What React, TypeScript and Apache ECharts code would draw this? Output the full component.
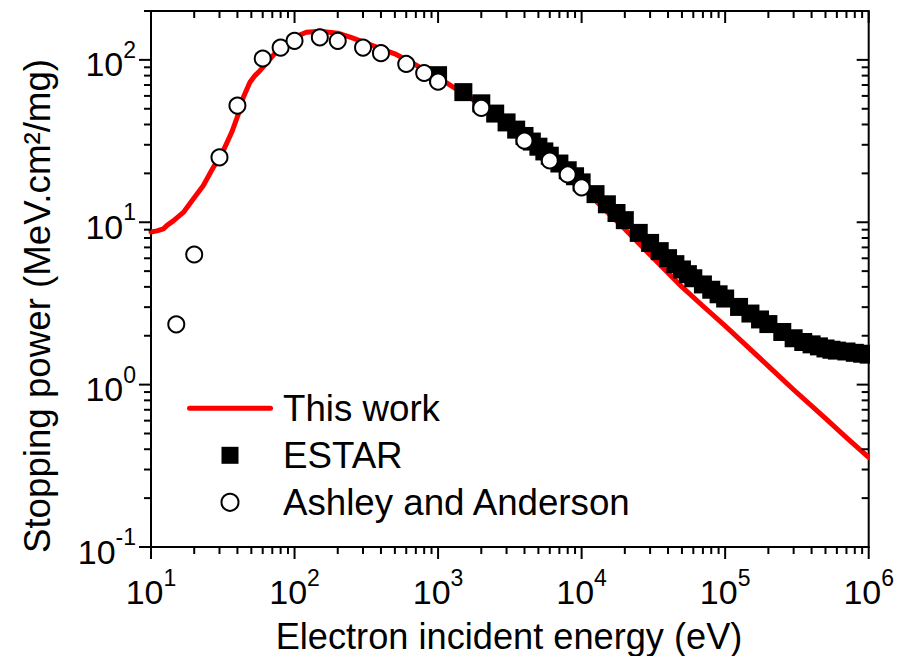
import React, { useEffect, useRef } from 'react';
import * as echarts from 'echarts';

// ---- Data ----
const thisWorkEnergy = [
  10, 11, 12.2, 13, 14.3, 16.8, 19.7, 23.1, 27.2, 31.9, 36.5, 40.6, 44, 48.9, 53, 57.4, 67.4, 79.1, 98,
  121, 150, 200, 250, 300, 400, 500, 700, 1000, 1500, 2000, 3000, 4000, 5000, 7000, 10000, 15000, 20000,
  30000, 50000, 70000, 100000, 150000, 200000, 300000, 500000, 700000, 1000000,
];
const thisWorkPower = [
  8.7, 8.85, 9.1, 9.6, 10.2, 11.5, 13.9, 16.8, 21.8, 27.6, 35.8, 46.4, 58.8, 72.7, 80, 85.8, 101, 119, 137,
  148, 150, 146, 137, 129, 117, 109, 93, 78, 62, 53, 40.5, 33, 28.2, 22, 16.5, 11.6, 9.1,
  6.3, 4.0, 3.05, 2.3, 1.65, 1.3, 0.93, 0.62, 0.472, 0.356,
];

const estarEnergy = [
  1000, 1500, 2000, 2500, 3000, 3500, 4000, 4500, 5000, 5500, 6000, 7000, 8000, 9000,
  10000, 12500, 15000, 17500, 20000, 25000, 30000, 35000, 40000, 45000, 50000, 55000, 60000, 70000, 80000, 90000,
  100000, 125000, 150000, 175000, 200000, 250000, 300000, 350000, 400000, 450000, 500000, 550000, 600000, 700000,
  800000, 900000, 1000000,
];
const estarPower = [
  80.5, 63.3, 54, 46.7, 41.2, 37.2, 34, 31.4, 29.2, 27.3, 25.7, 23, 20.9, 19.2,
  17.6, 14.9, 12.9, 11.4, 10.3, 8.6, 7.46, 6.64, 6.01, 5.52, 5.12, 4.79, 4.52, 4.14, 3.84, 3.6,
  3.39, 3.01, 2.74, 2.52, 2.36, 2.11, 1.93, 1.83, 1.77, 1.72, 1.67, 1.64, 1.62, 1.6,
  1.57, 1.55, 1.53,
];

const ashleyEnergy = [15, 20, 30, 40, 60, 80, 100, 150, 200, 300, 400, 600, 800, 1000, 2000, 4000, 6000, 8000, 10000];
const ashleyPower = [2.35, 6.33, 25.1, 52.3, 102, 119, 131, 137.6, 131, 119, 110, 94.4, 83, 73.4, 50.6, 31.8, 24, 19.7, 16.4];

const seriesNames = ['This work', 'ESTAR', 'Ashley and Anderson'];
const xTitle = 'Electron incident energy (eV)';
const yTitle = 'Stopping power (MeV.cm\u00B2/mg)';

const X_MIN = 10;
const X_MAX = 1000000;
const Y_MIN = 0.1;
const Y_MAX = 200;
const xDecades = [10, 100, 1000, 10000, 100000, 1000000];
const yDecades = [0.1, 1, 10, 100];
const minorSteps = [2, 3, 4, 5, 6, 7, 8, 9];

const FONT = '"Liberation Sans", Arial, Helvetica, sans-serif';

function zip(a: number[], b: number[]) {
  return a.map((v, i) => [v, b[i]]);
}

function buildTicks(decades: number[], max: number) {
  const out: { v: number; major: number }[] = [];
  decades.forEach((d) => {
    out.push({ v: d, major: 1 });
    minorSteps.forEach((m) => {
      const v = d * m;
      if (v <= max * 1.0000001) out.push({ v, major: 0 });
    });
  });
  return out.filter((t) => t.v <= max * 1.0000001);
}

const xTicks = buildTicks(xDecades, X_MAX);
const yTicks = buildTicks(yDecades, Y_MAX);

const tickStyle = { stroke: '#000', lineWidth: 2 };

function labelFormatter(v: number) {
  const l = Math.log10(v);
  const e = Math.round(l);
  if (Math.abs(l - e) > 1e-6) return '';
  return `{b|10}{s|${e}}`;
}

const rich = {
  b: { fontSize: 34, lineHeight: 52, fontFamily: FONT, color: '#000' },
  s: { fontSize: 23, lineHeight: 23, verticalAlign: 'top', fontFamily: FONT, color: '#000' },
};

export default function App() {
  const ref = useRef<HTMLDivElement>(null);
  useEffect(() => {
    if (!ref.current) return;
    const chart = echarts.init(ref.current, undefined, { renderer: 'svg' });
    const option: any = {
      animation: false,
      backgroundColor: '#fff',
      grid: {
        left: 151,
        top: 11,
        width: 718,
        height: 536,
        show: true,
        borderColor: '#000',
        borderWidth: 2,
        containLabel: false,
      },
      xAxis: {
        type: 'log',
        logBase: 10,
        min: X_MIN,
        max: X_MAX,
        splitNumber: 5,
        axisLine: { show: true, lineStyle: { color: '#000', width: 2 } },
        axisTick: { show: false },
        splitLine: { show: false },
        minorTick: { show: false },
        axisLabel: { formatter: labelFormatter, rich, margin: 19, color: '#000' },
      },
      yAxis: {
        type: 'log',
        logBase: 10,
        min: Y_MIN,
        max: Y_MAX,
        axisLine: { show: true, lineStyle: { color: '#000', width: 2 } },
        axisTick: { show: false },
        splitLine: { show: false },
        minorTick: { show: false },
        axisLabel: { formatter: labelFormatter, rich, margin: 15, padding: [9, 0, 0, 0], color: '#000' },
      },
      legend: {
        orient: 'vertical',
        left: 187,
        top: 389.8,
        padding: 0,
        itemWidth: 86,
        itemHeight: 17,
        itemGap: 10,
        selectedMode: false,
        textStyle: { fontSize: 36.7, fontFamily: FONT, color: '#000', lineHeight: 37, padding: [0, 0, 0, 5] },
        data: [
          { name: seriesNames[0], icon: 'path://M2.5,0H83.5A2.5,2.5,0,0,1,83.5,5H2.5A2.5,2.5,0,0,1,2.5,0Z' },
          { name: seriesNames[1], icon: 'path://M0,0H17V17H0Z', itemStyle: { color: '#000', opacity: 1 } },
          { name: seriesNames[2], itemStyle: { color: '#fff', borderColor: '#000', borderWidth: 2, opacity: 1 } },
        ],
      },
      series: [
        {
          name: seriesNames[0],
          type: 'line',
          data: zip(thisWorkEnergy, thisWorkPower),
          symbol: 'none',
          lineStyle: { color: '#ff0000', width: 5, cap: 'round', join: 'round' },
          itemStyle: { color: '#ff0000' },
          z: 2,
        },
        {
          name: seriesNames[1],
          type: 'scatter',
          data: zip(estarEnergy, estarPower),
          symbol: 'rect',
          symbolSize: 18,
          itemStyle: { color: '#000', opacity: 1 },
          z: 3,
        },
        {
          name: seriesNames[2],
          type: 'scatter',
          data: zip(ashleyEnergy, ashleyPower),
          symbol: 'circle',
          symbolSize: 16,
          itemStyle: { color: '#fff', borderColor: '#000', borderWidth: 2, opacity: 1 },
          z: 4,
        },
        {
          type: 'custom',
          clip: false,
          silent: true,
          z: 10,
          encode: { x: 0, y: 1 },
          data: xTicks.map((t) => [t.v, 1, t.major]),
          renderItem: (_p: any, api: any) => {
            const v = api.value(0);
            const len = api.value(2) === 1 ? 12 : 7;
            const b = api.coord([v, Y_MIN]);
            const t = api.coord([v, Y_MAX]);
            return {
              type: 'group',
              children: [
                { type: 'line', shape: { x1: b[0], y1: b[1], x2: b[0], y2: b[1] + len }, style: tickStyle },
                { type: 'line', shape: { x1: t[0], y1: t[1], x2: t[0], y2: t[1] + len }, style: tickStyle },
              ],
            };
          },
        },
        {
          type: 'custom',
          clip: false,
          silent: true,
          z: 10,
          encode: { x: 0, y: 1 },
          data: yTicks.map((t) => [100, t.v, t.major]),
          renderItem: (_p: any, api: any) => {
            const v = api.value(1);
            const len = api.value(2) === 1 ? 12 : 7;
            const l = api.coord([X_MIN, v]);
            const r = api.coord([X_MAX, v]);
            return {
              type: 'group',
              children: [
                { type: 'line', shape: { x1: l[0] - len, y1: l[1], x2: l[0], y2: l[1] }, style: tickStyle },
                { type: 'line', shape: { x1: r[0] - len, y1: r[1], x2: r[0], y2: r[1] }, style: tickStyle },
              ],
            };
          },
        },
      ],
      graphic: [
        {
          type: 'rect',
          z: 100,
          silent: true,
          shape: { x: 870, y: 0, width: 27, height: 556 },
          style: { fill: '#fff' },
        },
        {
          type: 'text',
          z: 100,
          x: 509,
          y: 636,
          style: { text: xTitle, fontSize: 36.2, fontFamily: FONT, fill: '#000', align: 'center', verticalAlign: 'middle' },
        },
        {
          type: 'text',
          z: 100,
          x: 37.5,
          y: 306,
          rotation: Math.PI / 2,
          style: { text: yTitle, fontSize: 36.7, fontFamily: FONT, fill: '#000', align: 'center', verticalAlign: 'middle' },
        },
      ],
    };
    chart.setOption(option);
    return () => chart.dispose();
  }, []);
  return <div ref={ref} style={{ position: 'absolute', left: 0, top: 0, width: 897, height: 656 }} />;
}
